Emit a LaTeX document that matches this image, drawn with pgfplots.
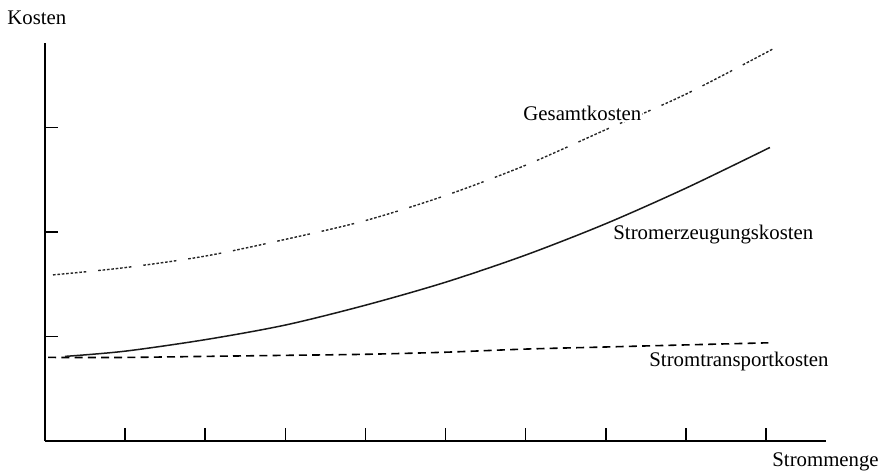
\documentclass[border=0pt]{standalone}
\usepackage{fontspec}
\setmainfont{Liberation Serif}
\usepackage{pgfplots}
\pgfplotsset{compat=1.18}
\begin{document}
\fontsize{10.4}{12}\selectfont
\begin{tikzpicture}
\useasboundingbox (0pt,0pt) rectangle (443pt,235.5pt);
\begin{axis}[
  at={(22.5pt,15pt)}, anchor=south west,
  scale only axis, width=390.5pt, height=199pt,
  xmin=0, xmax=9.75, ymin=0, ymax=3.81,
  axis lines=left,
  axis line style={-, line width=1pt, black},
  xtick={1,2,3,4,5,6,7,8,9}, ytick={1,2,3},
  xticklabels={}, yticklabels={},
  tick align=inside, major tick length=6.5pt,
  tick style={line width=0.8pt, black},
  clip=false,
]
% Stromtransportkosten
\addplot[black, line width=0.8pt, dash pattern=on 4pt off 2.6pt, smooth] coordinates {
  (0.04,0.80) (1,0.80) (2,0.81) (3,0.82) (4,0.83) (5,0.85) (6,0.88) (7,0.90) (8,0.92) (9.03,0.94)
};
% Stromerzeugungskosten
\addplot[black!90, line width=0.75pt, smooth] coordinates {
  (0.25,0.81) (1,0.86) (2,0.97) (3,1.11) (4,1.30) (5,1.52) (6,1.78) (7,2.08) (8,2.42) (9.05,2.81)
};
% Gesamtkosten
\addplot[black!85, line width=0.7pt, smooth,
  dash pattern=on 1.3pt off 0.9pt on 1.3pt off 0.9pt on 1.3pt off 0.9pt on 1.3pt off 0.9pt on 1.3pt off 0.9pt on 1.3pt off 0.9pt on 1.3pt off 0.9pt on 1.3pt off 6pt] coordinates {
  (0.1,1.59) (1,1.66) (2,1.77) (3,1.93) (4,2.11) (5,2.35) (6,2.64) (7,2.98) (8,3.32) (9.08,3.75)
};
\end{axis}
\node[anchor=base west, inner sep=0pt] at (3.5pt,223pt) {Kosten};
\node[anchor=base west, inner sep=0pt] at (386pt,2.5pt) {Strommenge};
\node[anchor=base west, inner sep=0.5pt, fill=white] at (261pt,175pt) {Gesamtkosten};
\node[anchor=base west, inner sep=0pt] at (306.5pt,115.5pt) {Stromerzeugungskosten};
\node[anchor=base west, inner sep=0pt] at (324.5pt,52.5pt) {Stromtransportkosten};
\end{tikzpicture}
\end{document}
